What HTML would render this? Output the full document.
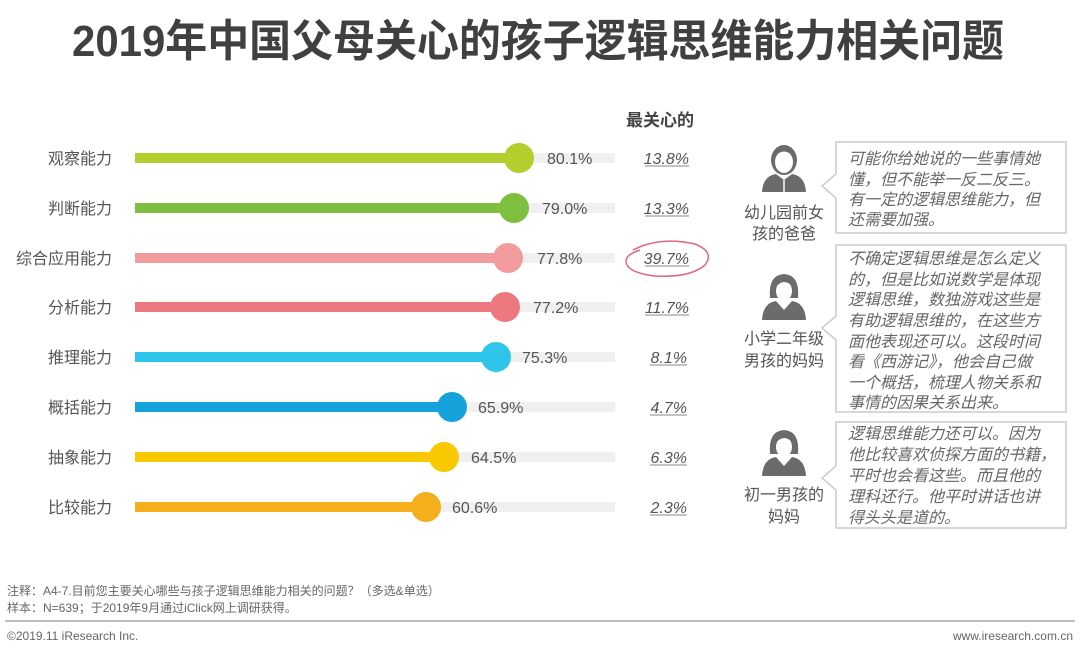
<!DOCTYPE html>
<html><head><meta charset="utf-8"><style>
body{margin:0;background:#fff;}
svg text{font-family:"Liberation Sans","Noto Sans CJK SC",sans-serif;}
</style></head><body>
<svg width="1080" height="656" xmlns="http://www.w3.org/2000/svg">
<rect width="1080" height="656" fill="#fff"/>
<text x="72" y="56" font-size="44" font-weight="bold" fill="#404040" textLength="932" lengthAdjust="spacingAndGlyphs">2019年中国父母关心的孩子逻辑思维能力相关问题</text>
<text x="626" y="126" font-size="17" font-weight="bold" fill="#444">最关心的</text>
<g font-size="16">
<rect x="135" y="153" width="480" height="10" fill="#f0f0f0"/><rect x="135" y="153" width="384" height="10" fill="#b3cf2d"/><circle cx="519" cy="158" r="15" fill="#b3cf2d"/>
<text x="112" y="164" text-anchor="end" fill="#555">观察能力</text><text x="547" y="164" fill="#555">80.1%</text>
<rect x="135" y="203" width="480" height="10" fill="#f0f0f0"/><rect x="135" y="203" width="379" height="10" fill="#7fbf3f"/><circle cx="514" cy="208" r="15" fill="#7fbf3f"/>
<text x="112" y="214" text-anchor="end" fill="#555">判断能力</text><text x="542" y="214" fill="#555">79.0%</text>
<rect x="135" y="253" width="480" height="10" fill="#f0f0f0"/><rect x="135" y="253" width="373" height="10" fill="#f29b9c"/><circle cx="508" cy="258" r="15" fill="#f29b9c"/>
<text x="112" y="264" text-anchor="end" fill="#555">综合应用能力</text><text x="537" y="264" fill="#555">77.8%</text>
<rect x="135" y="302" width="480" height="10" fill="#f0f0f0"/><rect x="135" y="302" width="370" height="10" fill="#ee7880"/><circle cx="505" cy="307" r="15" fill="#ee7880"/>
<text x="112" y="313" text-anchor="end" fill="#555">分析能力</text><text x="533" y="313" fill="#555">77.2%</text>
<rect x="135" y="352" width="480" height="10" fill="#f0f0f0"/><rect x="135" y="352" width="361" height="10" fill="#2ec5ea"/><circle cx="496" cy="357" r="15" fill="#2ec5ea"/>
<text x="112" y="363" text-anchor="end" fill="#555">推理能力</text><text x="522" y="363" fill="#555">75.3%</text>
<rect x="135" y="402" width="480" height="10" fill="#f0f0f0"/><rect x="135" y="402" width="317" height="10" fill="#16a3dc"/><circle cx="452" cy="407" r="15" fill="#16a3dc"/>
<text x="112" y="413" text-anchor="end" fill="#555">概括能力</text><text x="478" y="413" fill="#555">65.9%</text>
<rect x="135" y="452" width="480" height="10" fill="#f0f0f0"/><rect x="135" y="452" width="309" height="10" fill="#f8c800"/><circle cx="444" cy="457" r="15" fill="#f8c800"/>
<text x="112" y="463" text-anchor="end" fill="#555">抽象能力</text><text x="471" y="463" fill="#555">64.5%</text>
<rect x="135" y="502" width="480" height="10" fill="#f0f0f0"/><rect x="135" y="502" width="291" height="10" fill="#f5ae1c"/><circle cx="426" cy="507" r="15" fill="#f5ae1c"/>
<text x="112" y="513" text-anchor="end" fill="#555">比较能力</text><text x="452" y="513" fill="#555">60.6%</text>
</g>
<g font-size="16" font-style="italic" fill="#555" text-anchor="end">
<text x="689" y="164">13.8%</text><text x="689" y="214">13.3%</text><text x="689" y="264">39.7%</text><text x="689" y="313">11.7%</text>
<text x="687" y="363">8.1%</text><text x="687" y="413">4.7%</text><text x="687" y="463">6.3%</text><text x="687" y="513">2.3%</text>
</g>
<g stroke="#888" stroke-width="1">
<line x1="645" y1="166" x2="689" y2="166"/><line x1="645" y1="216" x2="689" y2="216"/><line x1="645" y1="266" x2="689" y2="266"/><line x1="645" y1="315" x2="689" y2="315"/>
<line x1="650" y1="365" x2="687" y2="365"/><line x1="650" y1="415" x2="687" y2="415"/><line x1="650" y1="465" x2="687" y2="465"/><line x1="650" y1="515" x2="687" y2="515"/>
</g>
<path d="M633 250 Q660 236 695 244 Q715 252 705 265 Q690 278 655 276 Q628 273 626 262 Q625 255 640 250" fill="none" stroke="#d96a7e" stroke-width="1.5"/>
<g fill="#fff" stroke="#ccc" stroke-width="1.5">
<path d="M836 142 H1066 V233 H836 V198 L822 186 L836 174 Z"/>
<path d="M836 245 H1066 V412 H836 V340 L822 328 L836 316 Z"/>
<path d="M836 422 H1066 V528 H836 V490 L822 478 L836 466 Z"/>
</g>
<g font-size="16" font-style="italic" fill="#666">
<text x="848" y="164">可能你给她说的一些事情她</text><text x="848" y="185">懂，但不能举一反二反三。</text><text x="848" y="205">有一定的逻辑思维能力，但</text><text x="848" y="225">还需要加强。</text>
<text x="848" y="264">不确定逻辑思维是怎么定义</text><text x="848" y="285">的，但是比如说数学是体现</text><text x="848" y="305">逻辑思维，数独游戏这些是</text><text x="848" y="326">有助逻辑思维的，在这些方</text><text x="848" y="347">面他表现还可以。这段时间</text><text x="848" y="367">看《西游记》，他会自己做</text><text x="848" y="388">一个概括，梳理人物关系和</text><text x="848" y="409" dy="-1">事情的因果关系出来。</text>
<text x="848" y="439">逻辑思维能力还可以。因为</text><text x="848" y="460">他比较喜欢侦探方面的书籍，</text><text x="848" y="481">平时也会看这些。而且他的</text><text x="848" y="502">理科还行。他平时讲话也讲</text><text x="848" y="523">得头头是道的。</text>
</g>
<g fill="#6b6b6b">
<ellipse cx="784" cy="160" rx="13" ry="15"/>
<path d="M762 192 Q763 176 776 174 L784 180 L792 174 Q805 176 806 192 Z"/>
<ellipse cx="784" cy="162" rx="9" ry="11" fill="#fff"/>
<path d="M774 157 Q784 146 794 157 L794 152 Q784 144 774 152 Z"/>
<line x1="784" y1="180" x2="784" y2="192" stroke="#fff" stroke-width="1.5"/>
</g>
<g fill="#6b6b6b" id="w1">
<path d="M770 298 Q768 275 784 274 Q800 275 798 298 Z"/>
<path d="M762 320 Q763 303 776 301 L784 310 L792 301 Q805 303 806 320 Z"/>
<ellipse cx="784" cy="291" rx="8" ry="10" fill="#fff"/>
<path d="M775 288 Q784 276 794 288 L794 282 Q784 274 775 282 Z"/>
</g>
<g transform="translate(0,156)" fill="#6b6b6b">
<path d="M770 298 Q768 275 784 274 Q800 275 798 298 Z"/>
<path d="M762 320 Q763 303 776 301 L784 310 L792 301 Q805 303 806 320 Z"/>
<ellipse cx="784" cy="291" rx="8" ry="10" fill="#fff"/>
<path d="M775 288 Q784 276 794 288 L794 282 Q784 274 775 282 Z"/>
</g>
<g font-size="16" fill="#555" text-anchor="middle">
<text x="784" y="218">幼儿园前女</text><text x="784" y="239">孩的爸爸</text>
<text x="784" y="344">小学二年级</text><text x="784" y="366">男孩的妈妈</text>
<text x="784" y="500">初一男孩的</text><text x="784" y="522">妈妈</text>
</g>
<g font-size="12" fill="#666">
<text x="7" y="595">注释：A4-7.目前您主要关心哪些与孩子逻辑思维能力相关的问题？（多选&amp;单选）</text>
<text x="7" y="612">样本：N=639；于2019年9月通过iClick网上调研获得。</text>
<text x="7" y="640">©2019.11 iResearch Inc.</text>
<text x="1073" y="640" text-anchor="end">www.iresearch.com.cn</text>
</g>
<line x1="5" y1="621" x2="1075" y2="621" stroke="#aaa" stroke-width="1.5"/>
</svg>
</body></html>
